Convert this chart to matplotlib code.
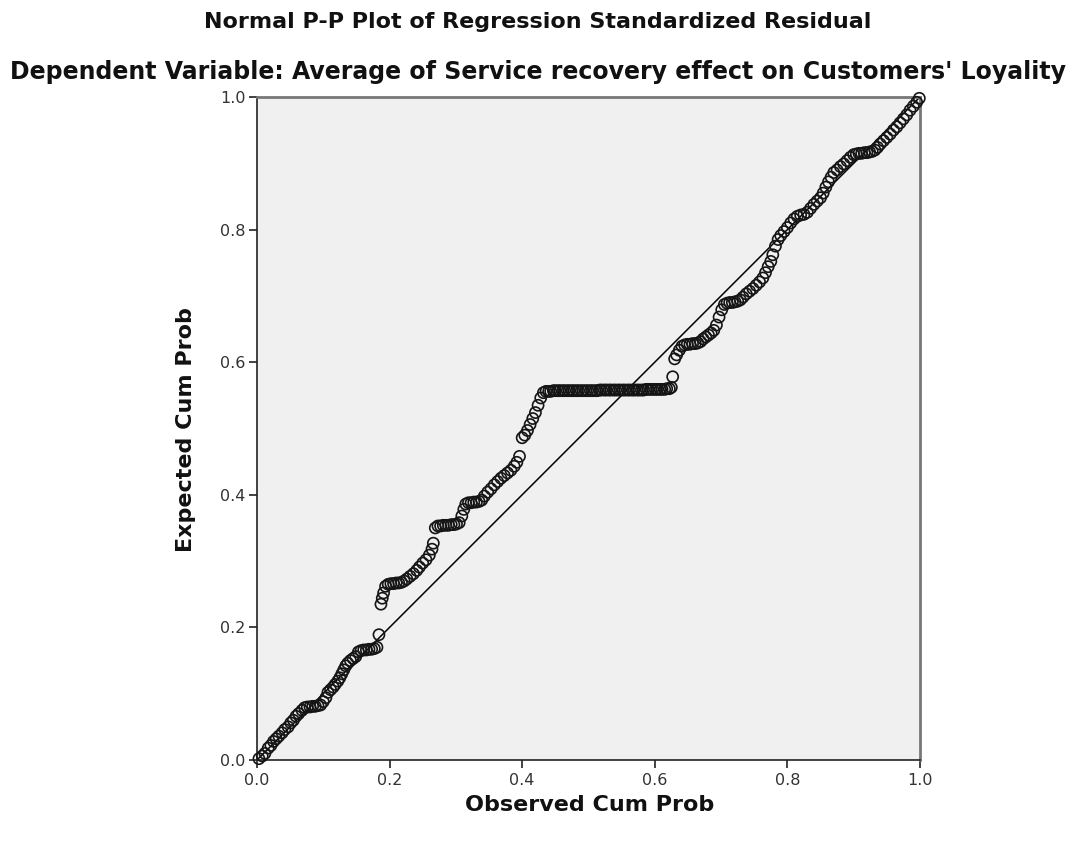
import matplotlib
matplotlib.use("Agg")
import matplotlib.pyplot as plt

# observed vs expected cumulative probability
obs_prob = [
    0.003, 0.008, 0.012, 0.017, 0.021, 0.025, 0.029, 0.033, 0.038, 0.042,
    0.047, 0.051, 0.055, 0.059, 0.063, 0.068, 0.072, 0.076, 0.080, 0.084,
    0.088, 0.092, 0.096, 0.100, 0.104, 0.107, 0.111, 0.115, 0.118, 0.122,
    0.125, 0.128, 0.131, 0.134, 0.137, 0.141, 0.145, 0.149, 0.153, 0.157,
    0.161, 0.165, 0.169, 0.173, 0.177, 0.181, 0.184,
    0.187, 0.189, 0.191, 0.194, 0.198, 0.202, 0.206, 0.210, 0.214, 0.218,
    0.222, 0.226, 0.231, 0.236, 0.241, 0.245, 0.250, 0.255, 0.260, 0.264,
    0.266, 0.269, 0.273, 0.277, 0.281, 0.285, 0.289, 0.293, 0.297, 0.301,
    0.305, 0.309, 0.312, 0.315, 0.319, 0.323, 0.327, 0.331, 0.335, 0.339,
    0.343, 0.348, 0.353, 0.358, 0.363, 0.368, 0.373, 0.378, 0.383, 0.388,
    0.392, 0.396, 0.400, 0.404, 0.408, 0.412, 0.416, 0.420, 0.424, 0.428,
    0.432,
    0.436, 0.440, 0.443, 0.447, 0.450, 0.454, 0.457, 0.461, 0.464, 0.468,
    0.471, 0.475, 0.478, 0.482, 0.485, 0.489, 0.492, 0.496, 0.499, 0.503,
    0.506, 0.510, 0.513, 0.517, 0.520, 0.524, 0.527, 0.531, 0.534, 0.538,
    0.541, 0.545, 0.548, 0.552, 0.555, 0.559, 0.562, 0.566, 0.569, 0.573,
    0.576, 0.580, 0.583, 0.587, 0.590, 0.594, 0.597, 0.601, 0.604, 0.608,
    0.611, 0.615, 0.618, 0.622,
    0.625, 0.627, 0.630, 0.633, 0.637, 0.641, 0.645, 0.649, 0.653, 0.657,
    0.661, 0.665, 0.669, 0.673, 0.677, 0.681, 0.685, 0.689, 0.693, 0.697,
    0.701, 0.705, 0.709, 0.713, 0.717, 0.721, 0.725, 0.729, 0.733, 0.738,
    0.743, 0.748, 0.753, 0.758, 0.763, 0.767, 0.771, 0.775, 0.778, 0.782,
    0.786, 0.790, 0.795, 0.800, 0.805, 0.810, 0.815, 0.820, 0.825, 0.830,
    0.835, 0.840, 0.845, 0.850, 0.854, 0.858, 0.862, 0.866, 0.870, 0.875,
    0.880, 0.885, 0.890, 0.895, 0.900, 0.904, 0.908, 0.912, 0.916, 0.920,
    0.924, 0.928, 0.932, 0.936, 0.940, 0.945, 0.950, 0.955, 0.960, 0.965,
    0.970, 0.975, 0.980, 0.985, 0.990, 0.995, 0.999,
]
exp_prob = [
    0.002, 0.006, 0.010, 0.018, 0.022, 0.028, 0.032, 0.036, 0.041, 0.046,
    0.050, 0.056, 0.060, 0.066, 0.070, 0.075, 0.079, 0.080, 0.080, 0.081,
    0.081, 0.082, 0.083, 0.088, 0.094, 0.102, 0.106, 0.110, 0.114, 0.119,
    0.124, 0.130, 0.136, 0.142, 0.146, 0.150, 0.153, 0.156, 0.163, 0.165,
    0.166, 0.166, 0.167, 0.167, 0.168, 0.170, 0.189,
    0.235, 0.244, 0.252, 0.262, 0.265, 0.266, 0.266, 0.267, 0.267, 0.268,
    0.270, 0.273, 0.277, 0.281, 0.286, 0.291, 0.297, 0.302, 0.309, 0.318,
    0.327, 0.350, 0.353, 0.353, 0.354, 0.354, 0.354, 0.355, 0.355, 0.356,
    0.358, 0.368, 0.378, 0.386, 0.388, 0.388, 0.389, 0.389, 0.390, 0.392,
    0.398, 0.404, 0.409, 0.415, 0.420, 0.425, 0.429, 0.433, 0.437, 0.443,
    0.449, 0.458, 0.486, 0.490, 0.497, 0.506, 0.515, 0.524, 0.535, 0.546,
    0.554,
    0.556, 0.556, 0.556, 0.557, 0.557, 0.557, 0.557, 0.557, 0.557, 0.557,
    0.557, 0.557, 0.557, 0.557, 0.557, 0.557, 0.557, 0.557, 0.557, 0.557,
    0.557, 0.557, 0.557, 0.558, 0.558, 0.558, 0.558, 0.558, 0.558, 0.558,
    0.558, 0.558, 0.558, 0.558, 0.558, 0.558, 0.558, 0.558, 0.558, 0.558,
    0.558, 0.558, 0.558, 0.559, 0.559, 0.559, 0.559, 0.559, 0.559, 0.559,
    0.559, 0.559, 0.560, 0.560,
    0.562, 0.578, 0.605, 0.611, 0.618, 0.624, 0.626, 0.627, 0.627, 0.628,
    0.628, 0.629, 0.631, 0.635, 0.638, 0.641, 0.644, 0.648, 0.656, 0.668,
    0.679, 0.687, 0.689, 0.690, 0.690, 0.691, 0.692, 0.694, 0.698, 0.703,
    0.707, 0.711, 0.716, 0.721, 0.727, 0.735, 0.744, 0.752, 0.762, 0.775,
    0.785, 0.791, 0.797, 0.803, 0.810, 0.816, 0.820, 0.822, 0.823, 0.826,
    0.832, 0.838, 0.843, 0.848, 0.855, 0.864, 0.872, 0.879, 0.886, 0.890,
    0.895, 0.899, 0.904, 0.909, 0.913, 0.914, 0.915, 0.915, 0.916, 0.916,
    0.917, 0.918, 0.920, 0.924, 0.929, 0.934, 0.939, 0.944, 0.950, 0.955,
    0.961, 0.967, 0.973, 0.980, 0.986, 0.992, 0.998,
]
ref_line = [0.0, 1.0]
ticks = [0.0, 0.2, 0.4, 0.6, 0.8, 1.0]

assert len(obs_prob) == len(exp_prob)

fig = plt.figure(figsize=(10.76, 8.41), dpi=100)
fig.patch.set_facecolor("white")
ax = fig.add_axes([0.2388, 0.0963, 0.6162, 0.7884])
ax.set_facecolor("#f0f0f0")

ax.plot(ref_line, ref_line, color="black", lw=1.1, zorder=2)
ax.scatter(obs_prob, exp_prob, s=64, facecolors="none", edgecolors="#151515",
           linewidths=1.2, zorder=3, clip_on=False)

ax.set_xlim(0, 1)
ax.set_ylim(0, 1)
ax.set_xticks(ticks)
ax.set_yticks(ticks)
ax.set_xticklabels([f"{t:.1f}" for t in ticks])
ax.set_yticklabels([f"{t:.1f}" for t in ticks])
ax.tick_params(length=6, width=1.2, color="#222", labelsize=11.5,
               labelcolor="#333")
ax.tick_params(axis="x", pad=3)
ax.tick_params(axis="y", pad=2)

for s in ("left", "bottom"):
    ax.spines[s].set_color("#222")
    ax.spines[s].set_linewidth(1.2)
for s in ("top", "right"):
    ax.spines[s].set_color("#777")
    ax.spines[s].set_linewidth(2.0)

fig.text(0.5, 0.974, "Normal P-P Plot of Regression Standardized Residual",
         ha="center", va="center", fontsize=16, fontweight="bold", color="#111")
fig.text(0.5, 0.914, "Dependent Variable: Average of Service recovery effect on "
         "Customers' Loyality", ha="center", va="center", fontsize=17,
         fontweight="bold", color="#111")
fig.text(0.548, 0.043, "Observed Cum Prob", ha="center", va="center",
         fontsize=16, fontweight="bold", color="#111")
fig.text(0.173, 0.489, "Expected Cum Prob", ha="center", va="center",
         rotation=90, fontsize=16, fontweight="bold", color="#111")

fig.savefig("out.png", dpi=100, facecolor="white")
